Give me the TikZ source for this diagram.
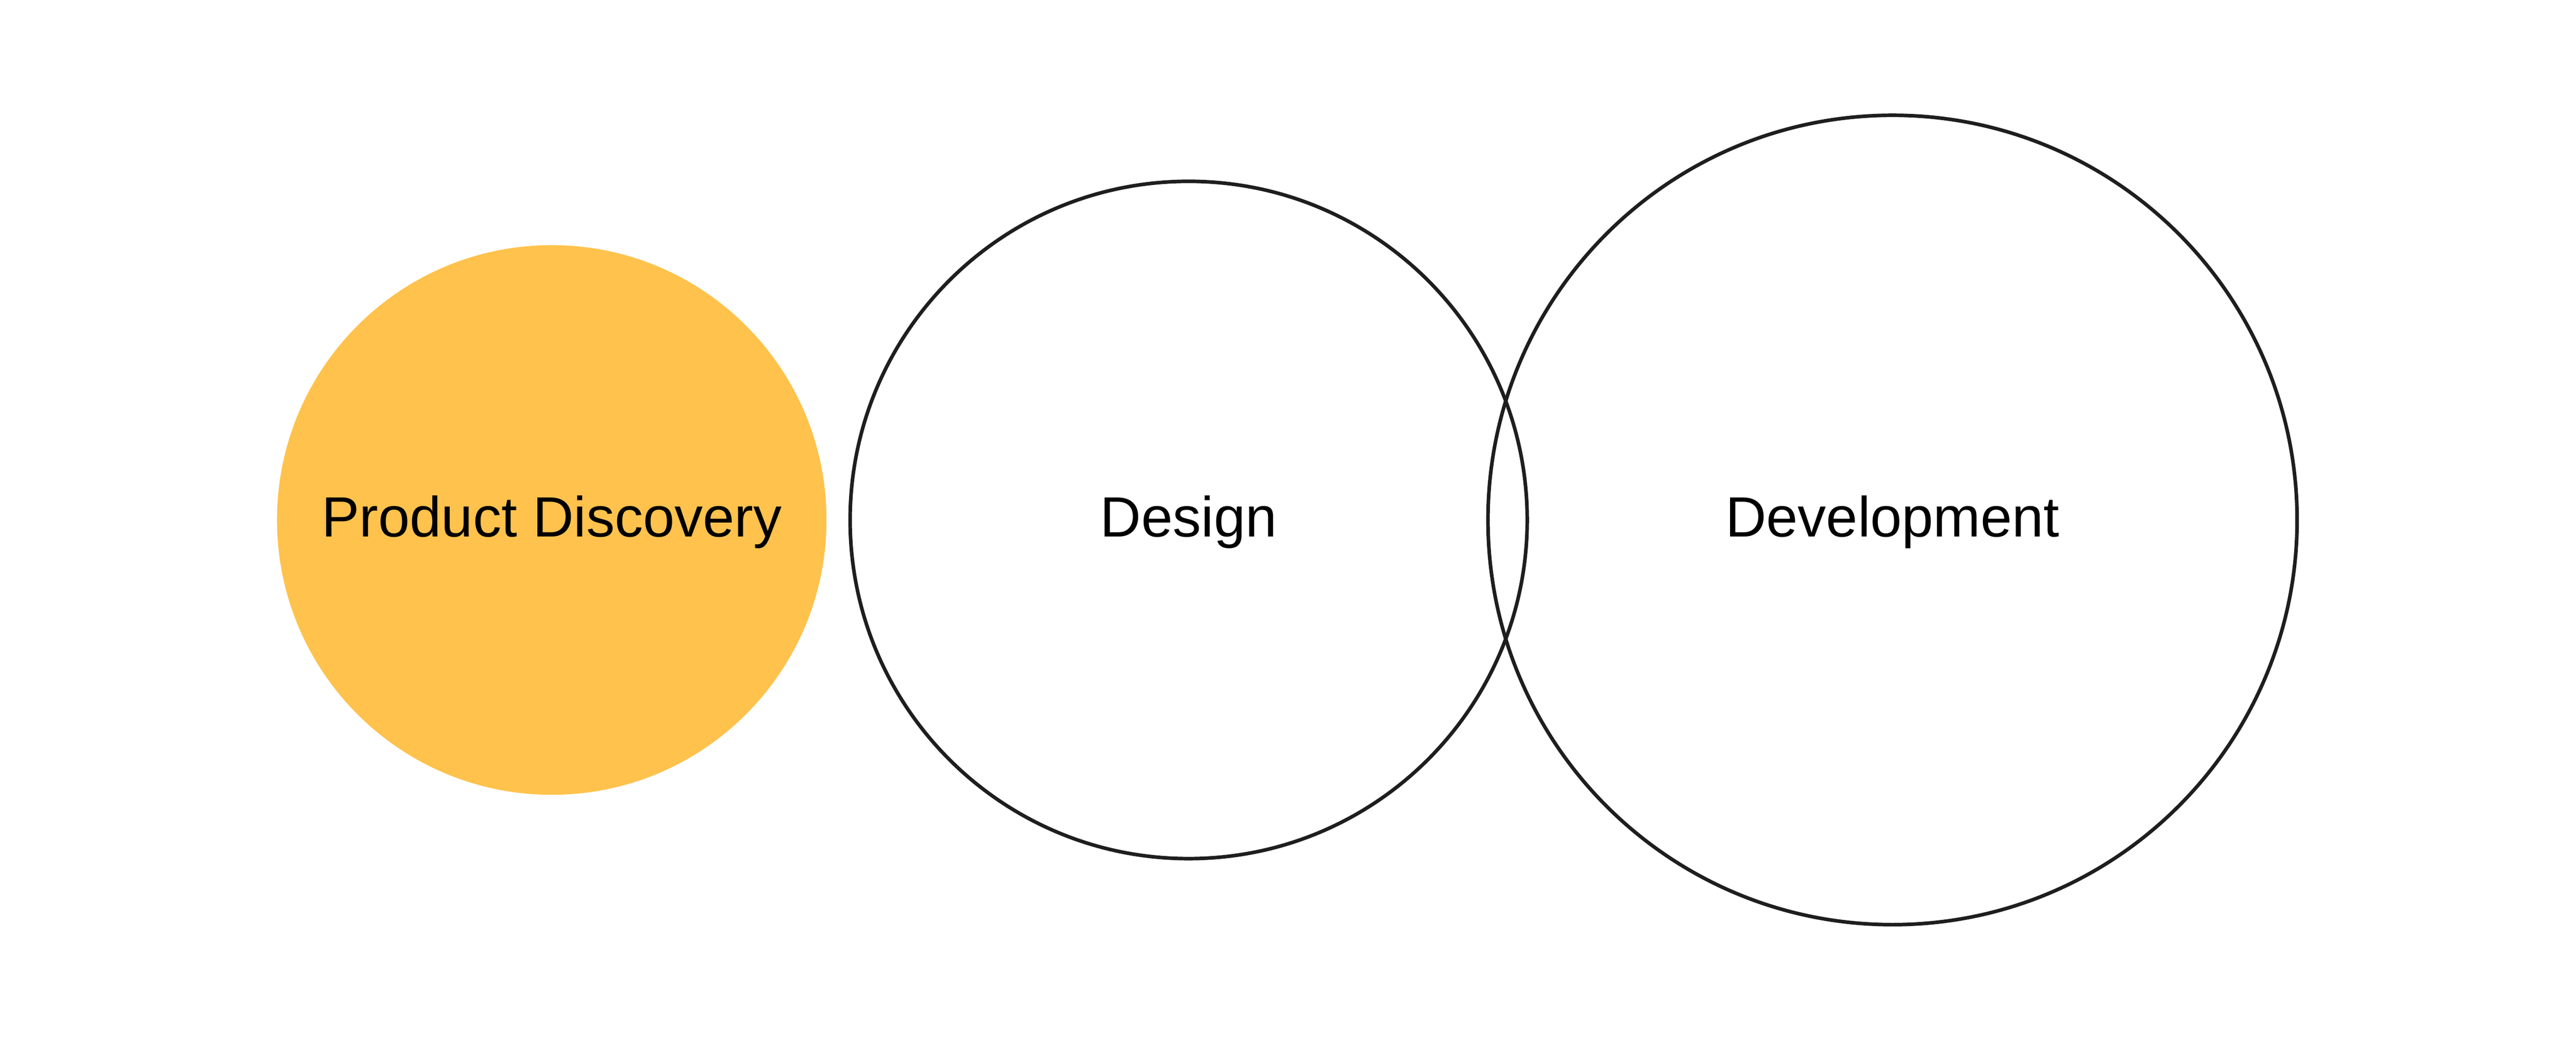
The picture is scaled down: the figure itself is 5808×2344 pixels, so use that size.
\documentclass[tikz,border=0pt]{standalone}
\usepackage{fontspec}
\setmainfont{Liberation Sans}
\definecolor{discyellow}{HTML}{FFC24C}
\definecolor{ringline}{HTML}{1E1E1E}
\tikzset{
  ring/.style={circle, draw=ringline, line width=1.15pt, inner sep=0pt, outer sep=0pt},
  filledring/.style={circle, fill=discyellow, inner sep=0pt, outer sep=0pt},
  lbl/.style={anchor=base, inner sep=0pt, font=\fontsize{18.2pt}{22pt}\selectfont, text=black}
}
\begin{document}
\begin{tikzpicture}[x=0.005cm, y=0.005cm]
  \useasboundingbox (0,0) rectangle (5808,2344);
  \fill[white] (0,0) rectangle (5808,2344);
  \node[filledring, minimum size=6.2cm] (disc) at (1244,1172) {};
  \node[ring, minimum size=7.64cm] (design) at (2680,1172) {};
  \node[ring, minimum size=9.13cm] (dev) at (4267,1172) {};
  \node[lbl] (disclbl) at ([yshift=-0.19cm]disc.center) {Product Discovery};
  \node[lbl] (designlbl) at ([yshift=-0.19cm]design.center) {Design};
  \node[lbl] (devlbl) at ([yshift=-0.19cm]dev.center) {Development};
\end{tikzpicture}
\end{document}
